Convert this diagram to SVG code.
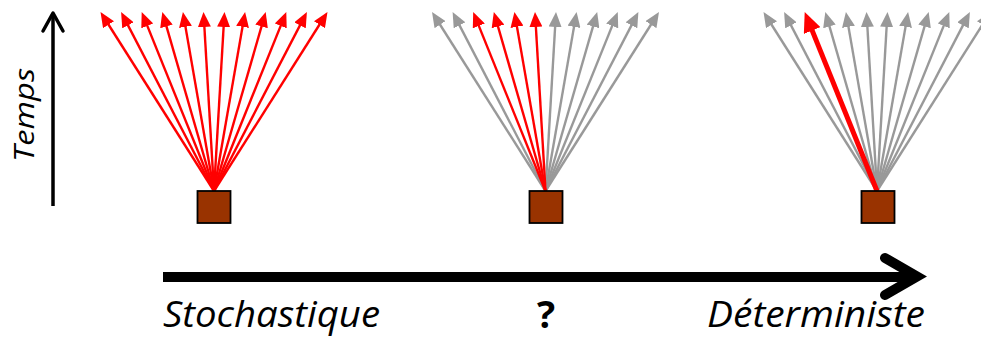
<svg xmlns="http://www.w3.org/2000/svg" width="981" height="338" viewBox="0 0 981 338">
<style>
.r{stroke:#ff0000;stroke-width:2.4;fill:none;marker-end:url(#ar)}
.g{stroke:#999999;stroke-width:2.4;fill:none;marker-end:url(#ag)}
.box{fill:#993300;stroke:#000;stroke-width:1.8}
.lbl{font-family:"Open Sans","Liberation Sans",sans-serif;font-style:italic;fill:#000}
</style>
<defs>
<marker id="ar" markerUnits="userSpaceOnUse" markerWidth="15" markerHeight="13" refX="7" refY="6.5" orient="auto"><path d="M0,0 L15,6.5 L0,13 z" fill="#ff0000"/></marker>
<marker id="ag" markerUnits="userSpaceOnUse" markerWidth="15" markerHeight="13" refX="7" refY="6.5" orient="auto"><path d="M0,0 L15,6.5 L0,13 z" fill="#999999"/></marker>
<marker id="arb" markerUnits="userSpaceOnUse" markerWidth="20" markerHeight="18" refX="8" refY="9" orient="auto"><path d="M0,0 L20,9 L0,18 z" fill="#ff0000"/></marker>
</defs>

<g id="connectors">
  <g id="fan1" transform="translate(214,0)">
    <line class="r" x1="0" y1="191" x2="-109.2" y2="18.76"/>
    <line class="r" x1="0" y1="191" x2="-89.21" y2="19.1"/>
    <line class="r" x1="0" y1="191" x2="-69.3" y2="19.42"/>
    <line class="r" x1="0" y1="191" x2="-49.48" y2="19.69"/>
    <line class="r" x1="0" y1="191" x2="-29.73" y2="19.88"/>
    <line class="r" x1="0" y1="191" x2="-10.03" y2="19.99"/>
    <line class="r" x1="0" y1="191" x2="10.03" y2="19.99"/>
    <line class="r" x1="0" y1="191" x2="29.73" y2="19.88"/>
    <line class="r" x1="0" y1="191" x2="49.48" y2="19.69"/>
    <line class="r" x1="0" y1="191" x2="69.3" y2="19.42"/>
    <line class="r" x1="0" y1="191" x2="89.21" y2="19.1"/>
    <line class="r" x1="0" y1="191" x2="109.2" y2="18.76"/>
  </g>
  <g id="fan2" transform="translate(545.5,0)">
    <line class="g" x1="0" y1="191" x2="-109.2" y2="18.76"/>
    <line class="g" x1="0" y1="191" x2="-89.21" y2="19.1"/>
    <line class="g" x1="0" y1="191" x2="10.03" y2="19.99"/>
    <line class="g" x1="0" y1="191" x2="29.73" y2="19.88"/>
    <line class="g" x1="0" y1="191" x2="49.48" y2="19.69"/>
    <line class="g" x1="0" y1="191" x2="69.3" y2="19.42"/>
    <line class="g" x1="0" y1="191" x2="89.21" y2="19.1"/>
    <line class="g" x1="0" y1="191" x2="109.2" y2="18.76"/>
    <line class="r" x1="0" y1="191" x2="-69.3" y2="19.42"/>
    <line class="r" x1="0" y1="191" x2="-49.48" y2="19.69"/>
    <line class="r" x1="0" y1="191" x2="-29.73" y2="19.88"/>
    <line class="r" x1="0" y1="191" x2="-10.03" y2="19.99"/>
  </g>
  <g id="fan3" transform="translate(877,0)">
    <line class="g" x1="0" y1="191" x2="-109.2" y2="18.76"/>
    <line class="g" x1="0" y1="191" x2="-89.21" y2="19.1"/>
    <line class="g" x1="0" y1="191" x2="-49.48" y2="19.69"/>
    <line class="g" x1="0" y1="191" x2="-29.73" y2="19.88"/>
    <line class="g" x1="0" y1="191" x2="-10.03" y2="19.99"/>
    <line class="g" x1="0" y1="191" x2="10.03" y2="19.99"/>
    <line class="g" x1="0" y1="191" x2="29.73" y2="19.88"/>
    <line class="g" x1="0" y1="191" x2="49.48" y2="19.69"/>
    <line class="g" x1="0" y1="191" x2="69.3" y2="19.42"/>
    <line class="g" x1="0" y1="191" x2="89.21" y2="19.1"/>
    <line class="g" x1="0" y1="191" x2="109.2" y2="18.76"/>
    <line x1="0" y1="191" x2="-67.8" y2="23.1" stroke="#ff0000" stroke-width="5" marker-end="url(#arb)"/>
  </g>
  <g id="time-axis">
    <line x1="53" y1="206" x2="53" y2="14" stroke="#000" stroke-width="3.5"/>
    <polyline points="43,31 53,13 63,31" fill="none" stroke="#000" stroke-width="3.5" stroke-linecap="round" stroke-linejoin="round"/>
  </g>
  <g id="spectrum-axis">
    <line x1="163" y1="277" x2="913" y2="277" stroke="#000" stroke-width="10"/>
    <polyline points="885,258 917,276.5 885,295" fill="none" stroke="#000" stroke-width="10" stroke-linecap="round" stroke-linejoin="miter"/>
  </g>
</g>

<g id="node-box1"><rect class="box" x="197.5" y="191" width="33" height="32"/></g>
<g id="node-box2"><rect class="box" x="529.5" y="191" width="33" height="32"/></g>
<g id="node-box3"><rect class="box" x="861.5" y="191" width="33" height="32"/></g>

<g id="labels">
  <text class="lbl" transform="translate(34,162) rotate(-90)" font-size="28" textLength="94" lengthAdjust="spacingAndGlyphs">Temps</text>
  <text class="lbl" x="163" y="327" font-size="36" textLength="217" lengthAdjust="spacingAndGlyphs">Stochastique</text>
  <text class="lbl" x="707" y="327" font-size="36" textLength="218" lengthAdjust="spacingAndGlyphs">Déterministe</text>
  <text x="546" y="328" font-family="'Open Sans','Liberation Sans',sans-serif" font-weight="bold" font-size="38" text-anchor="middle">?</text>
</g>
</svg>
